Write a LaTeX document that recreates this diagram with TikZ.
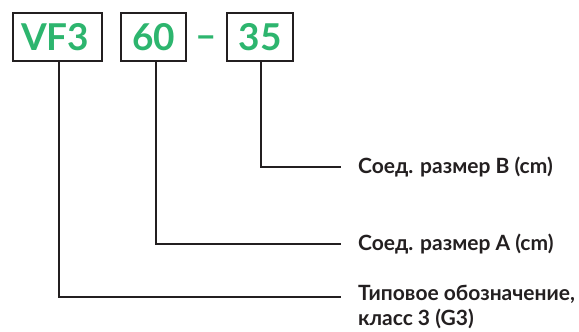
\documentclass[tikz,border=0pt]{standalone}
\usepackage{fontspec}
\setmainfont{Lato}
\usetikzlibrary{positioning,calc}
\definecolor{txt}{HTML}{231F20}
\definecolor{gnT}{HTML}{2DB56E}
\definecolor{lnB}{HTML}{231F20}
\begin{document}
\begin{tikzpicture}[
  x=1pt,y=-1pt,
  font=\bfseries,text=txt,
  code/.style={draw=lnB,line width=2.2pt,text=gnT,font=\fontsize{37}{37}\selectfont\bfseries,
    minimum height=48pt,inner sep=0pt,anchor=north west},
  lead/.style={draw=lnB,line width=2.1pt,line cap=rect},
  desc/.style={font=\fontsize{21}{25}\selectfont\bfseries,anchor=west,inner sep=0pt,align=left},
  ]
\useasboundingbox (0,0) rectangle (579,332);

% ---- code boxes ----
\node[code,minimum width=89pt,text width=73pt,align=left,inner xsep=8pt] (vf) at (12,12) {VF3};
\node[code,minimum width=65pt] (ca) at (120,12) {60};
\node[code,minimum width=66pt] (cb) at (226,12) {35};
\node[text=gnT,font=\fontsize{37}{37}\selectfont\bfseries,inner sep=0pt,yshift=-5pt] (dash) at ($(ca.east)!0.5!(cb.west)$) {--};

% ---- descriptions ----
\node[desc] (db) at (358,167) {Соед. размер B (cm)};
\node[desc] (da) at (358,244) {Соед. размер A (cm)};
\node[desc,anchor=north west] (dt) at (358,285) {Типовое обозначение,\\класс 3 (G3)};

% ---- leaders ----
\coordinate (eb) at (340,167);
\coordinate (ea) at (340,244);
\coordinate (et) at (340,297);
\draw[lead] ([xshift=1pt]cb.south) |- (eb);
\draw[lead] ([xshift=2.5pt]ca.south) |- (ea);
\draw[lead] ([xshift=1pt]vf.south) |- (et);

\end{tikzpicture}
\end{document}
